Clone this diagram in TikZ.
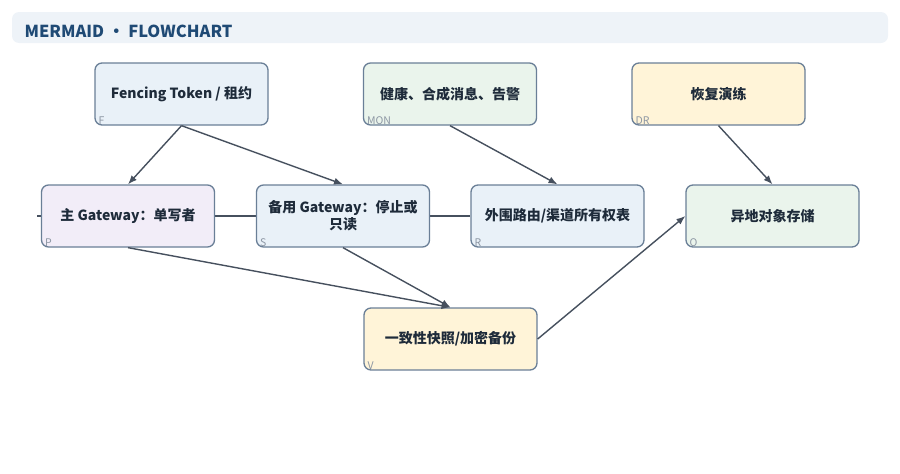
\documentclass[tikz,border=0pt]{standalone}
\usepackage{fontspec}
\setmainfont{Noto Sans CJK SC}
\usetikzlibrary{arrows.meta,backgrounds}

\definecolor{edgegray}{HTML}{46505E}
\definecolor{boxline}{HTML}{6A7F97}
\definecolor{idgray}{HTML}{8C96A3}
\definecolor{titleblue}{HTML}{1F4A75}
\definecolor{textnavy}{HTML}{1E2B3A}
\definecolor{barfill}{HTML}{EEF3F8}
\definecolor{fillblue}{HTML}{E9F1F8}
\definecolor{fillgreen}{HTML}{EAF4EC}
\definecolor{fillyellow}{HTML}{FFF4D8}
\definecolor{fillpurple}{HTML}{F2EDF8}

\begin{document}
\begin{tikzpicture}[x=1pt,y=-1pt,
    box/.style={draw=boxline,line width=1.3pt,rounded corners=7pt,
        minimum width=173pt,minimum height=62pt,align=center,
        font=\fontsize{14}{17}\selectfont\bfseries,text=textnavy},
    idtag/.style={font=\fontsize{10.5}{11}\selectfont,text=idgray,anchor=south west,inner sep=0pt},
    link/.style={draw=edgegray,line width=1.4pt},
    arr/.style={link,-{Latex[length=9pt,width=7pt]}}]
    \useasboundingbox (0,0) rectangle (900,474);

    % title bar
    \fill[barfill,rounded corners=7pt] (12,12) rectangle (888,43);
    \node[anchor=west,font=\fontsize{16.5}{19}\selectfont\bfseries,text=titleblue] (title) at (21,31) {MERMAID · FLOWCHART};

    % top row
    \node[box,fill=fillblue] (F) at (181.5,94) {Fencing Token / 租约};
    \node[box,fill=fillgreen] (MON) at (450,94) {健康、合成消息、告警};
    \node[box,fill=fillyellow] (DR) at (718.5,94) {恢复演练};

    % middle row
    \node[box,fill=fillpurple] (P) at (128,216) {主 Gateway：单写者};
    \node[box,fill=fillblue] (S) at (343,216) {备用 Gateway：停止或\\只读};
    \node[box,fill=fillblue] (R) at (557.5,216) {外围路由/渠道所有权表};
    \node[box,fill=fillgreen] (O) at (772.5,216) {异地对象存储};

    % bottom
    \node[box,fill=fillyellow] (V) at (450.5,339) {一致性快照/加密备份};

    % ids
    \node[idtag] at ([xshift=4pt,yshift=1pt]F.south west) {F};
    \node[idtag] at ([xshift=4pt,yshift=1pt]MON.south west) {MON};
    \node[idtag] at ([xshift=4pt,yshift=1pt]DR.south west) {DR};
    \node[idtag] at ([xshift=4pt,yshift=1pt]P.south west) {P};
    \node[idtag] at ([xshift=4pt,yshift=1pt]S.south west) {S};
    \node[idtag] at ([xshift=4pt,yshift=1pt]R.south west) {R};
    \node[idtag] at ([xshift=4pt,yshift=1pt]O.south west) {O};
    \node[idtag] at ([xshift=4pt,yshift=1pt]V.south west) {V};

    % connectors
    \coordinate (stub) at (37,216);
    \begin{scope}[on background layer]
        \draw[link] (stub) -- (R.west);
    \end{scope}
    \draw[arr] (F.south) -- (P.north);
    \draw[arr] (F.south) -- (S.north);
    \draw[arr] (MON.south) -- (R.north);
    \draw[arr] (DR.south) -- (O.north);
    \draw[arr] (P.south) -- (V.north);
    \draw[arr] (S.south) -- (V.north);
    \draw[arr] (V.east) -- (O.west);
\end{tikzpicture}
\end{document}
